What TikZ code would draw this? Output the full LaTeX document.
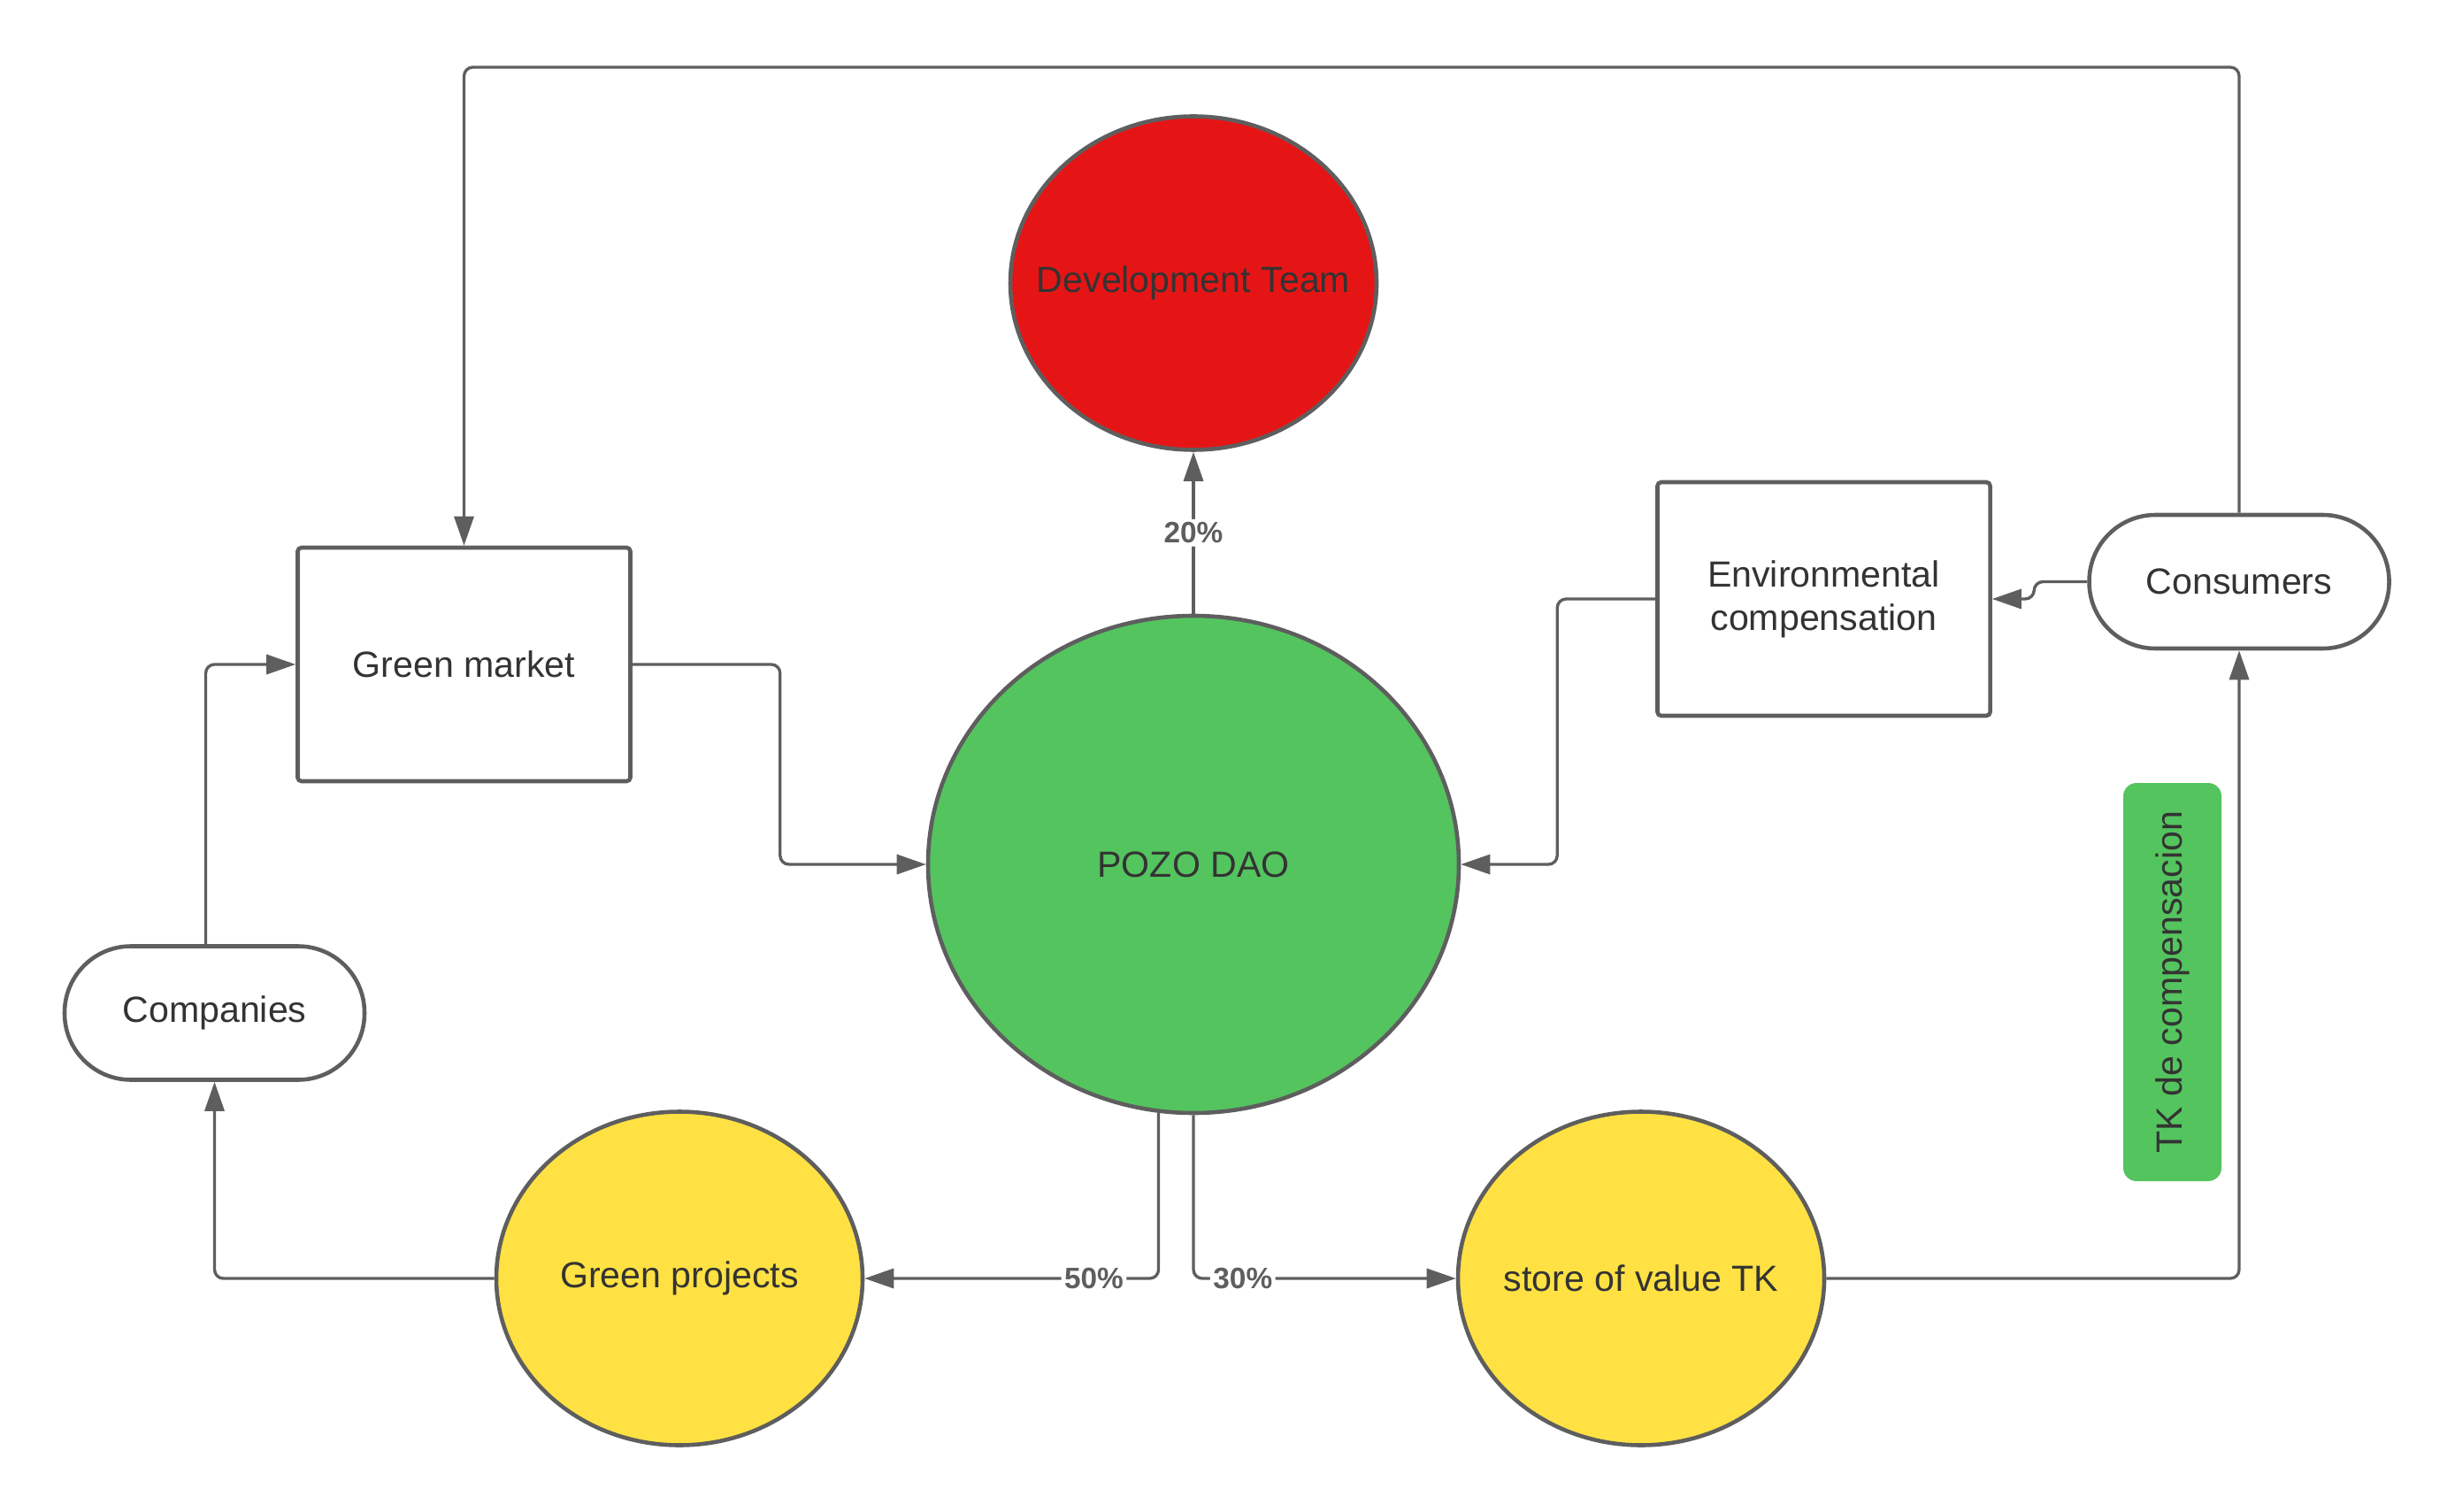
\documentclass[tikz,border=0pt]{standalone}
\usepackage{fontspec}
\setmainfont{Liberation Sans}
\usepackage{xcolor}
\usepackage{tikz}
\usetikzlibrary{arrows.meta, shapes.geometric, positioning, calc}

\definecolor{lineGray}{HTML}{5E5E5E}
\definecolor{txtGray}{HTML}{333333}
\definecolor{devRed}{HTML}{E61515}
\definecolor{daoGreen}{HTML}{54C45E}
\definecolor{projYellow}{HTML}{FFE143}

\begin{document}
\begin{tikzpicture}[
  font=\fontsize{11.7}{14}\selectfont, text=txtGray,
  blob/.style={ellipse, draw=lineGray, line width=1.3pt, inner sep=0pt,
               minimum width=4.14cm, minimum height=3.77cm,
               label={[text=txtGray]center:#1}},
  box/.style={rectangle, rounded corners=1.2pt, draw=lineGray, line width=1.3pt,
              minimum width=3.76cm, minimum height=2.64cm, align=center},
  pill/.style={rectangle, rounded corners=0.75cm, draw=lineGray, line width=1.3pt,
               minimum width=3.39cm, minimum height=1.51cm},
  conn/.style={-{Triangle[length=3.3mm, width=2.2mm]}, lineGray, line width=0.95pt,
               rounded corners=1mm},
  pct/.style={font=\fontsize{9.5}{11}\selectfont\bfseries, fill=white, inner sep=1pt}
]
\fill[white] (0,0) rectangle (27.75,17.08);
\useasboundingbox (0,0) rectangle (27.75,17.08);

\def\yTop{16.32}
\def\yLow{2.63}

\node[blob=Development Team, fill=devRed] (dev) at (13.49, 13.88) {};
\node[blob=POZO DAO, fill=daoGreen, minimum width=6.0cm, minimum height=5.62cm]
  (dao) at (13.49, 7.31) {};
\node[box] (market) at (5.245, 9.57) {Green market};
\node[box] (env) at (20.615, 10.31) {Environmental\\compensation};
\node[pill] (cons) at (25.31, 10.505) {Consumers};
\node[pill] (comp) at (2.425, 5.63) {Companies};
\node[blob=Green projects, fill=projYellow] (proj) at (7.68, \yLow) {};
\node[blob=store of value TK, fill=projYellow] (store) at (18.55, \yLow) {};
\node[rectangle, rounded corners=1.5mm, fill=daoGreen, rotate=90,
      minimum width=4.5cm, minimum height=1.11cm] (tk) at (24.555, 5.98)
  {TK de compensacion};

\coordinate (top) at (0, \yTop);

\draw[conn] (cons.north) -- (cons.north |- top) -| (market.north);
\draw[conn] ([xshift=-1mm]comp.north) |- (market.west);
\draw[conn] (market.east) -- ++(1.67,0) |- (dao.west);
\draw[conn] (env.west) -- ++(-1.11,0) |- (dao.east);
\draw[conn] (cons.west) -- ++(-0.6,0) |- (env.east);
\draw[conn] (dao.north) -- (dev.south)
  node[pct, midway]{20\%};
\draw[conn] (dao.262) |- (proj.east)
  node[pct, pos=0.61]{50\%};
\draw[conn] (dao.south) |- (store.west)
  node[pct, pos=0.594]{30\%};
\draw[conn] (proj.west) -| (comp.south);
\draw[conn] (store.east) -| (cons.south);
\end{tikzpicture}
\end{document}
